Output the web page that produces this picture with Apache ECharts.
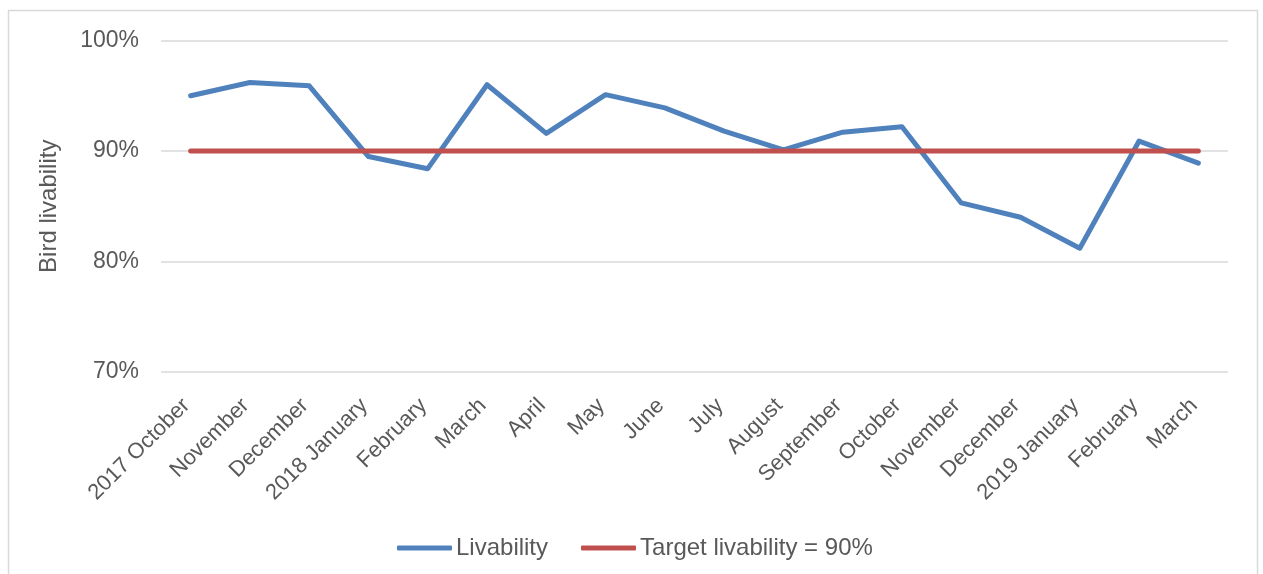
<!DOCTYPE html>
<html lang="en">
<head>
  <meta charset="UTF-8">
  <title>Bird livability</title>
  <style>
    html, body { margin: 0; padding: 0; background: #fff; }
    #chart { width: 1263px; height: 574px; }
  </style>
</head>
<body>
  <div id="chart"></div>
  <script src="https://cdn.jsdelivr.net/npm/echarts@6/dist/echarts.min.js"></script>
  <script>
    var months = ['2017 October', 'November', 'December', '2018 January', 'February', 'March',
      'April', 'May', 'June', 'July', 'August', 'September', 'October', 'November',
      'December', '2019 January', 'February', 'March'];
    var livability = [95.0, 96.2, 95.9, 89.5, 88.4, 96.0, 91.6, 95.1, 93.9, 91.8,
      90.1, 91.7, 92.2, 85.3, 84.0, 81.2, 90.9, 88.9];
    var target = [90, 90, 90, 90, 90, 90, 90, 90, 90, 90, 90, 90, 90, 90, 90, 90, 90, 90];

    var textColor = '#595959';
    var font = 'Liberation Sans';

    var myChart = echarts.init(document.getElementById('chart'));
    myChart.setOption({
      animation: false,
      textStyle: { fontFamily: font },
      graphic: [{
        type: 'rect',
        shape: { x: 8.5, y: 10.5, width: 1249, height: 620 },
        style: { fill: null, stroke: '#D9D9D9', lineWidth: 1.5 },
        silent: true
      }],
      grid: { left: 161, right: 35, top: 40.5, bottom: 202 },
      legend: {
        bottom: 9,
        left: 392,
        itemWidth: 55,
        itemHeight: 5,
        itemGap: 33,
        icon: 'roundRect',
        textStyle: { color: textColor, fontSize: 24, fontFamily: font, padding: [0, 0, 0, -1] },
        data: ['Livability', 'Target livability = 90%']
      },
      xAxis: {
        type: 'category',
        data: months,
        boundaryGap: true,
        axisLine: { show: false },
        axisTick: { show: false },
        axisLabel: {
          rotate: 45,
          interval: 0,
          margin: 26,
          padding: [0, 6, 0, 0],
          color: textColor,
          fontSize: 22,
          fontFamily: font
        }
      },
      yAxis: {
        type: 'value',
        min: 70,
        max: 100,
        interval: 10,
        name: 'Bird livability',
        nameLocation: 'middle',
        nameGap: 100,
        nameTextStyle: { color: textColor, fontSize: 24, fontFamily: font },
        axisLine: { show: false },
        axisTick: { show: false },
        axisLabel: {
          margin: 22,
          color: textColor,
          fontSize: 23,
          fontFamily: font,
          formatter: '{value}%'
        },
        splitLine: { lineStyle: { color: '#D9D9D9', width: 1.5 } }
      },
      series: [{
        name: 'Livability',
        type: 'line',
        data: livability,
        symbol: 'none',
        itemStyle: { color: '#4F81BD' },
        lineStyle: { color: '#4F81BD', width: 5, cap: 'round', join: 'round' }
      }, {
        name: 'Target livability = 90%',
        type: 'line',
        data: target,
        symbol: 'none',
        itemStyle: { color: '#C0504D' },
        lineStyle: { color: '#C0504D', width: 5, cap: 'round' }
      }]
    });
  </script>
</body>
</html>
